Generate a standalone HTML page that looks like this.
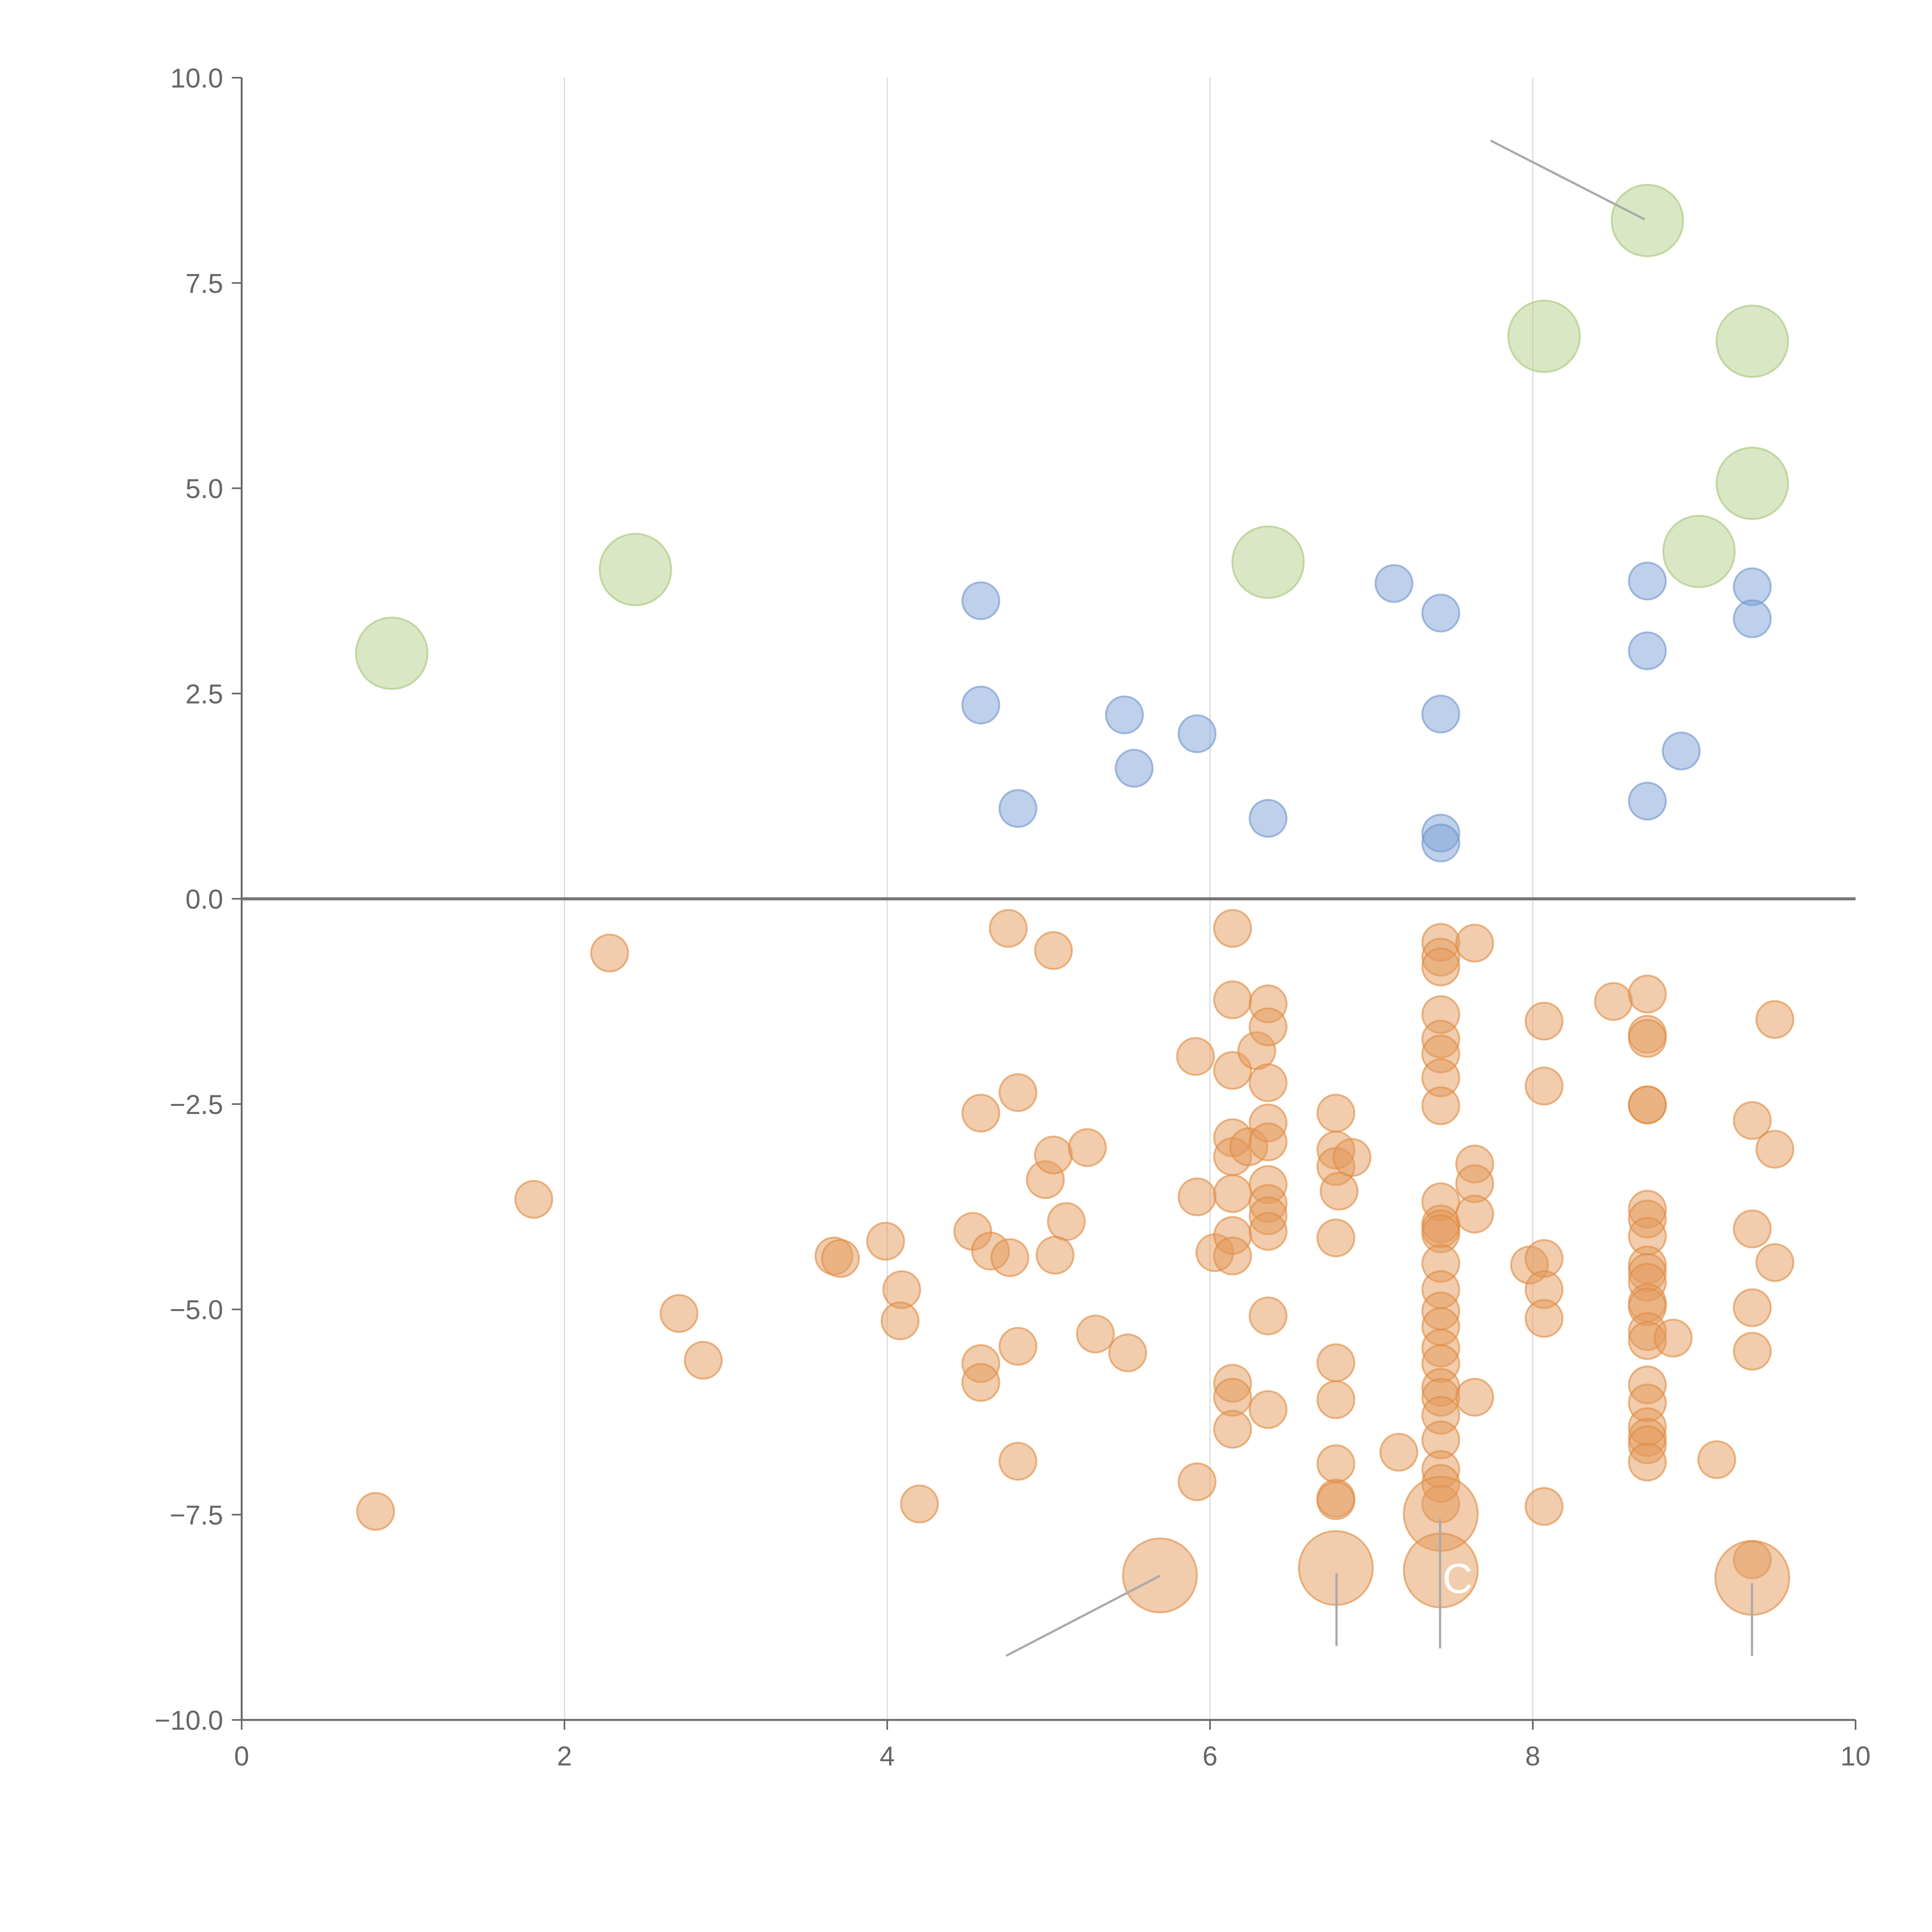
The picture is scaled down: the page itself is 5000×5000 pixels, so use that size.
<!DOCTYPE html>
<html><head><meta charset="utf-8"><style>
html,body{margin:0;padding:0;background:#fff}
svg{display:block}
text{font-family:"Liberation Sans",sans-serif}
</style></head><body>
<svg id="chart" width="5000" height="5000" viewBox="0 0 1567 1567" xmlns="http://www.w3.org/2000/svg">
<g id="grid"></g>
<g id="axes"></g>
<g id="marks"></g>
</svg>
<script>
const orangeX=[0.83,1.81,2.28,2.71,2.86,3.67,3.71,3.99,4.09,4.08,4.20,4.53,4.58,4.58,4.58,4.64,4.75,4.76,4.81,4.81,4.81,4.98,5.03,5.03,5.04,5.11,5.24,5.29,5.49,5.91,5.92,5.92,6.03,6.14,6.14,6.14,6.14,6.14,6.14,6.14,6.14,6.14,6.14,6.14,6.24,6.29,6.36,6.36,6.36,6.36,6.36,6.36,6.36,6.36,6.36,6.36,6.36,6.78,6.78,6.78,6.80,6.78,6.88,6.78,6.78,6.78,6.78,6.78,7.17,7.43,7.43,7.43,7.43,7.43,7.43,7.43,7.43,7.43,7.43,7.43,7.43,7.43,7.43,7.43,7.43,7.43,7.43,7.43,7.43,7.43,7.43,7.43,7.43,7.43,7.64,7.64,7.64,7.64,7.64,7.98,8.07,8.07,8.07,8.07,8.07,8.07,8.50,8.71,8.71,8.71,8.71,8.71,8.71,8.71,8.71,8.71,8.71,8.71,8.71,8.71,8.71,8.71,8.71,8.71,8.71,8.71,8.71,8.71,8.87,9.14,9.36,9.36,9.36,9.36,9.36,9.50,9.50,9.50];
const orangeY=[-7.46,-3.66,-0.66,-5.05,-5.62,-4.35,-4.38,-4.17,-4.76,-5.14,-7.37,-4.05,-2.61,-5.66,-5.89,-4.29,-0.36,-4.37,-2.36,-5.45,-6.85,-3.42,-0.63,-3.12,-4.34,-3.93,-3.03,-5.30,-5.53,-1.92,-3.63,-7.10,-4.31,-0.36,-1.23,-2.09,-2.91,-3.14,-3.59,-4.10,-4.35,-5.90,-6.07,-6.46,-3.02,-1.85,-1.28,-1.56,-2.24,-2.73,-2.96,-3.48,-3.71,-3.86,-4.05,-5.08,-6.22,-2.61,-3.06,-3.26,-3.56,-4.13,-3.15,-5.65,-6.10,-6.88,-7.30,-7.33,-6.74,-0.53,-0.71,-0.83,-1.41,-1.71,-1.89,-2.18,-2.52,-3.69,-3.96,-4.02,-4.08,-4.44,-4.76,-5.02,-5.21,-5.47,-5.66,-5.95,-6.07,-6.29,-6.59,-6.95,-7.12,-7.37,-0.54,-3.23,-3.47,-3.84,-6.07,-4.46,-1.49,-2.28,-4.38,-4.76,-5.11,-7.40,-1.25,-1.16,-1.65,-1.70,-2.51,-2.51,-3.78,-3.90,-4.11,-4.46,-4.55,-4.67,-4.92,-4.97,-5.27,-5.38,-5.92,-6.14,-6.43,-6.56,-6.65,-6.86,-5.35,-6.83,-2.70,-4.02,-4.98,-5.51,-8.05,-1.47,-3.05,-4.43];
const bigOrangeX=[5.69,6.78,7.43,7.43,9.36];
const bigOrangeY=[-8.24,-8.15,-7.49,-8.18,-8.27];
const blueX=[4.58,4.58,4.81,5.47,5.53,5.92,6.36,7.14,7.43,7.43,7.43,7.43,8.71,8.71,8.71,8.92,9.36,9.36];
const blueY=[3.63,2.36,1.10,2.24,1.59,2.01,0.98,3.84,3.48,2.25,0.80,0.68,3.87,3.02,1.19,1.80,3.80,3.41];
const greenX=[0.93,2.44,6.36,8.07,8.71,9.03,9.36,9.36];
const greenY=[2.99,4.01,4.10,6.85,8.26,4.23,6.79,5.06];
const xTicks=[0,2,4,6,8,10];
const yTicks=[-10,-7.5,-5,-2.5,0,2.5,5,7.5,10];

const NS="http://www.w3.org/2000/svg";
const X0=196,X1=1505,Y0=1395,Y1=63;
const sx=v=>X0+(v-0)/10*(X1-X0);
const sy=v=>Y0-(v+10)/20*(Y0-Y1);
function mk(tag,attrs,parent){const e=document.createElementNS(NS,tag);for(const k in attrs)e.setAttribute(k,attrs[k]);parent.appendChild(e);return e;}
const grid=document.getElementById('grid'),axes=document.getElementById('axes'),marks=document.getElementById('marks');

xTicks.forEach(t=>{
  if(t>0&&t<10){const g=mk('line',{x1:sx(t),x2:sx(t),y1:Y1,y2:Y0,stroke:'#dcdcdc','stroke-width':1},grid);
  
  }
  const tk=mk('line',{x1:sx(t),x2:sx(t),y1:Y0,y2:Y0+8,stroke:'#666','stroke-width':1.3},axes);
  
  
  const tx=mk('text',{x:sx(t),y:Y0+37,'text-anchor':'middle','font-size':22,fill:'#666'},axes);
  tx.textContent=String(t);
  
  
});
yTicks.forEach(t=>{
  const tk=mk('line',{x1:X0-8,x2:X0,y1:sy(t),y2:sy(t),stroke:'#666','stroke-width':1.3},axes);
  
  
  const tx=mk('text',{x:X0-15,y:sy(t)+8,'text-anchor':'end','font-size':22,fill:'#666'},axes);
  tx.textContent=(t<0?'\u2212':'')+Math.abs(t).toFixed(1);
  
  
});
let a=mk('line',{x1:X0,x2:X0,y1:Y1,y2:Y0,stroke:'#666','stroke-width':1.5},axes);


a=mk('line',{x1:X0,x2:X1,y1:Y0,y2:Y0,stroke:'#666','stroke-width':1.5},axes);


a=mk('line',{x1:X0,x2:X1,y1:sy(0),y2:sy(0),stroke:'#777','stroke-width':2.5},axes);



function dots(xs,ys,r,fill,stroke,name){
  xs.forEach((x,i)=>{
    const c=mk('circle',{cx:sx(x),cy:sy(ys[i]),r:r,fill:fill,'fill-opacity':0.5,stroke:stroke,'stroke-opacity':0.6,'stroke-width':1.5},marks);
    
    
  });
}
dots(orangeX,orangeY,15,'#e39a5c','#e08a40','orange-point');
dots(blueX,blueY,15,'#7ea2d6','#6e93cc','blue-point');
dots(bigOrangeX,bigOrangeY,30,'#e39a5c','#e08a40','large-orange-point');
dots(greenX,greenY,29,'#b5d08a','#a5c578','green-point');

const leaders=[[941,1278,816,1343],[1084,1276,1084,1335],[1168,1232,1168,1337],[1421,1284,1421,1343],[1334,178,1209,114]];
leaders.forEach(l=>{
  const e=mk('line',{x1:l[0],y1:l[1],x2:l[2],y2:l[3],stroke:'#aaa','stroke-width':1.8},marks);
  
  
});
const lab=mk('text',{x:1170,y:1292,'font-size':34,fill:'#fff'},marks);
lab.textContent='C';


</script>
</body></html>
